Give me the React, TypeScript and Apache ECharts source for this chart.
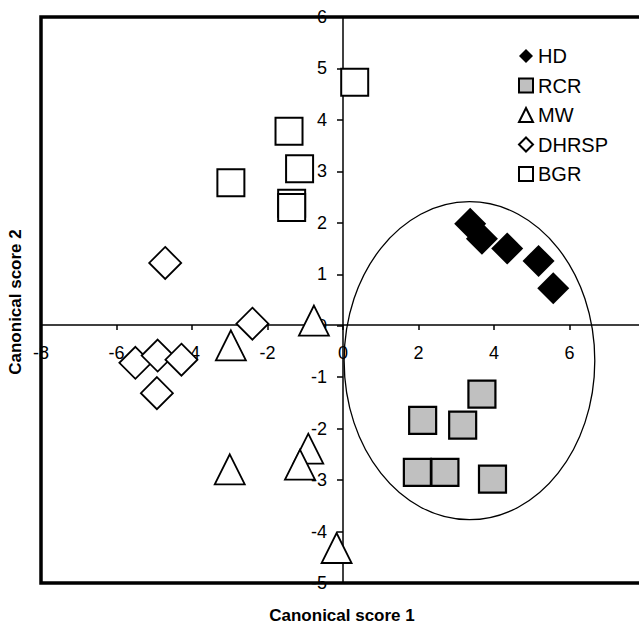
import React, { useEffect, useRef } from "react";
import * as echarts from "echarts";

const hdPoints: number[][] = [
  [3.37, 1.98], [3.68, 1.69], [4.35, 1.5], [5.18, 1.26], [5.57, 0.73],
];
const rcrPoints: number[][] = [
  [3.68, -1.33], [2.11, -1.84], [3.17, -1.93], [1.97, -2.85], [2.7, -2.85], [3.96, -2.98],
];
const mwPoints: number[][] = [
  [-3.0, -2.79], [-2.97, -0.38], [-0.77, 0.1], [-0.92, -2.39], [-1.14, -2.7], [-0.17, -4.32],
];
const dhrspPoints: number[][] = [
  [-4.71, 1.22], [-2.4, 0.04], [-5.5, -0.72], [-4.91, -0.58], [-4.28, -0.66], [-4.93, -1.31],
];
const bgrPoints: number[][] = [
  [0.31, 4.73], [-1.43, 3.78], [-1.15, 3.05], [-2.97, 2.78], [-1.36, 2.38], [-1.36, 2.3],
];
// ellipse: centre x, centre y, radius x, radius y (data units)
const ellipseData: number[][] = [[3.35, -0.68, 3.32, 3.09]];

const seriesNames = ["HD", "RCR", "MW", "DHRSP", "BGR"];
const xTitle = "Canonical score 1";
const yTitle = "Canonical score 2";

const FONT = "Liberation Sans, Arial, sans-serif";

export default function App() {
  const ref = useRef<HTMLDivElement>(null);
  useEffect(() => {
    if (!ref.current) return;
    const chart = echarts.init(ref.current, undefined, { renderer: "svg" });
    const openStyle = { color: "#fff", borderColor: "#000", borderWidth: 1.8, opacity: 1 };
    chart.setOption({
      animation: false,
      backgroundColor: "#fff",
      grid: {
        left: 41,
        top: 17,
        bottom: 42,
        right: -6,
        containLabel: false,
        outerBoundsMode: "none",
        show: true,
        borderColor: "#000",
        borderWidth: 3.5,
        backgroundColor: "transparent",
      },
      legend: {
        orient: "vertical",
        left: 513,
        top: 41,
        itemWidth: 14,
        itemHeight: 14,
        itemGap: 9.5,
        data: seriesNames,
        textStyle: { fontSize: 20, lineHeight: 18, color: "#000", fontFamily: FONT },
      },
      xAxis: {
        type: "value",
        min: -8,
        max: 8,
        interval: 2,
        position: "bottom",
        offset: -258,
        axisLine: { onZero: false, lineStyle: { color: "#000", width: 1.5 } },
        axisTick: { show: true, inside: false, length: 5, lineStyle: { color: "#000", width: 1.5 } },
        axisLabel: { margin: 19, fontSize: 18, color: "#000", fontFamily: FONT, showMinLabel: true, showMaxLabel: false },
        splitLine: { show: false },
      },
      yAxis: {
        type: "value",
        min: -5,
        max: 6,
        interval: 1,
        position: "left",
        offset: -302,
        axisLine: { onZero: false, lineStyle: { color: "#000", width: 1.5 } },
        axisTick: { show: true, inside: false, length: 6, lineStyle: { color: "#000", width: 1.5 } },
        axisLabel: { margin: 16, fontSize: 18, color: "#000", fontFamily: FONT, showMinLabel: true, showMaxLabel: true },
        splitLine: { show: false },
      },
      graphic: [
        {
          type: "text",
          x: 342,
          y: 615,
          style: {
            text: xTitle,
            fontSize: 17,
            fontWeight: "bold",
            fontFamily: FONT,
            fill: "#000",
            align: "center",
            verticalAlign: "middle",
          },
        },
        {
          type: "text",
          x: 15,
          y: 302,
          rotation: Math.PI / 2,
          style: {
            text: yTitle,
            fontSize: 17,
            fontWeight: "bold",
            fontFamily: FONT,
            fill: "#000",
            align: "center",
            verticalAlign: "middle",
          },
        },
      ],
      series: [
        {
          type: "custom",
          name: "ellipse",
          silent: true,
          z: 1,
          data: ellipseData,
          renderItem: (params: any, api: any) => {
            const c = api.coord([api.value(0), api.value(1)]);
            const s = api.size([api.value(2), api.value(3)]);
            return {
              type: "ellipse",
              shape: { cx: c[0], cy: c[1], rx: s[0], ry: s[1] },
              style: { fill: "none", stroke: "#000", lineWidth: 1.3 },
            };
          },
        },
        {
          type: "scatter",
          name: "HD",
          symbol: "diamond",
          symbolSize: 32,
          itemStyle: { color: "#000", opacity: 1 },
          data: hdPoints,
        },
        {
          type: "scatter",
          name: "RCR",
          symbol: "rect",
          symbolSize: 27,
          itemStyle: { color: "#c0c0c0", borderColor: "#000", borderWidth: 2.2, opacity: 1 },
          data: rcrPoints,
        },
        {
          type: "scatter",
          name: "MW",
          symbol: "triangle",
          symbolSize: [30, 30],
          itemStyle: openStyle,
          data: mwPoints,
        },
        {
          type: "scatter",
          name: "DHRSP",
          symbol: "diamond",
          symbolSize: 32,
          itemStyle: openStyle,
          data: dhrspPoints,
        },
        {
          type: "scatter",
          name: "BGR",
          symbol: "rect",
          symbolSize: 27,
          itemStyle: { color: "#fff", borderColor: "#000", borderWidth: 2, opacity: 1 },
          data: bgrPoints,
        },
      ],
    });
    return () => chart.dispose();
  }, []);
  return (
    <div
      ref={ref}
      style={{ position: "fixed", left: 0, top: 0, width: 639, height: 625, background: "#fff" }}
    />
  );
}
